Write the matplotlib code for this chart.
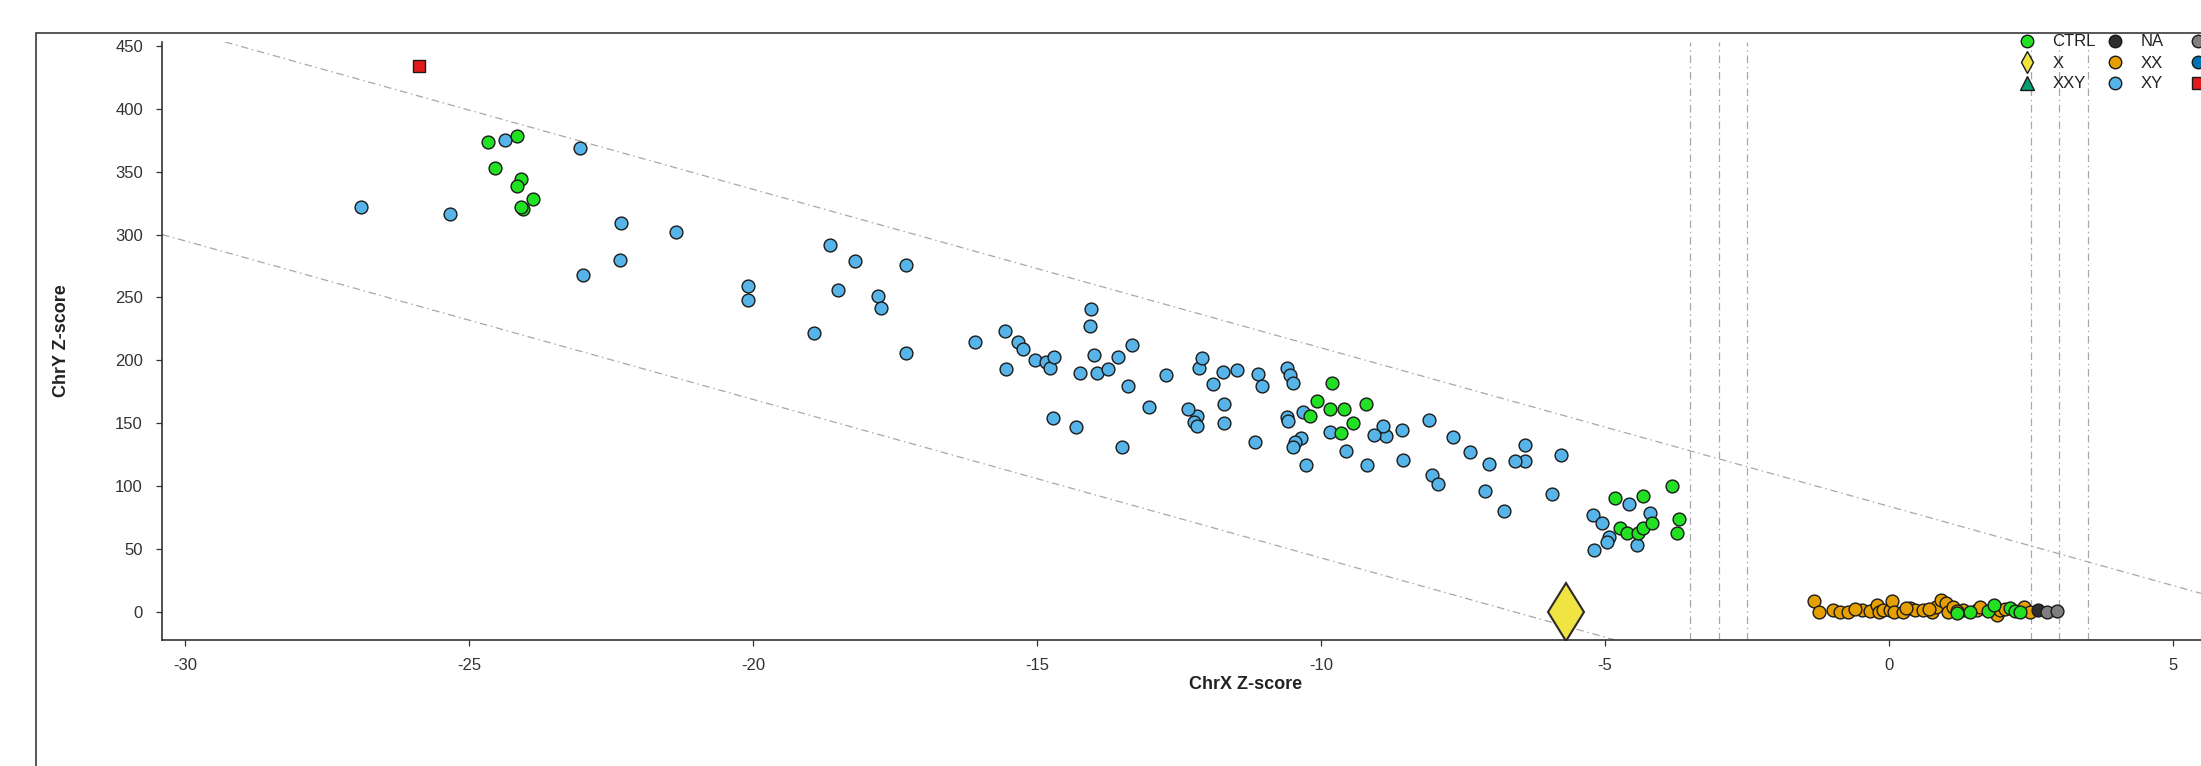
import matplotlib
matplotlib.use("Agg")
import matplotlib.pyplot as plt
from matplotlib.lines import Line2D
from matplotlib.patches import Rectangle

plt.rcParams['font.family'] = ['Liberation Sans', 'DejaVu Sans']
plt.rcParams['axes.unicode_minus'] = False

# ---------------- data ----------------
xy_x = [-26.91, -25.33, -24.37, -23.05, -22.32, -21.36, -22.35, -22.99,
        -20.08, -20.08, -18.92, -18.65, -18.5, -18.2, -17.8, -17.75, -17.3, -17.3,
        -16.1, -15.56, -15.54, -15.34, -15.24, -15.04, -14.85, -14.77, -14.7, -14.72,
        -14.32, -14.25, -14.07, -14.05, -14.0, -13.95, -13.75, -13.57, -13.4, -13.32,
        -12.73, -12.14, -12.1, -11.9, -11.72, -11.48, -11.11, -11.04, -10.6, -10.55, -10.5,
        -5.22, -5.05, -4.58, -4.2, -4.93, -4.97, -5.19, -4.44,
        -5.93, -6.77, -7.12, -5.77, -6.4, -6.4, -6.58, -7.04, -7.38, -7.68, -8.04, -7.94,
        -8.09, -8.56, -8.58, -8.86, -8.9, -9.06, -9.19, -9.56, -9.84, -10.32, -10.59,
        -10.58, -10.35, -10.45, -10.49, -10.27, -11.17, -11.7, -11.7, -12.19, -12.24,
        -12.18, -12.35, -13.02, -13.5]
xy_y = [322, 316, 375, 369, 309, 302, 280, 268,
        259, 248, 222, 292, 256, 279, 251, 242, 276, 206,
        215, 223, 193, 215, 209, 200, 199, 194, 203, 154,
        147, 190, 227, 241, 204, 190, 193, 203, 180, 212,
        188, 194, 202, 181, 191, 192, 189, 180, 194, 188, 182,
        77, 71, 86, 79, 60, 56, 49, 53,
        94, 80, 96, 125, 133, 120, 120, 118, 127, 139, 109, 102,
        153, 121, 145, 140, 148, 141, 117, 128, 143, 159, 155,
        152, 138, 135, 131, 117, 135, 150, 165, 156, 151,
        148, 161, 163, 131]

ctrl_x = [-24.67, -24.15, -24.54, -24.09, -24.15, -23.88, -24.05, -24.08,
          -10.07, -9.8, -9.85, -9.6, -9.21, -9.43, -9.65, -10.2,
          -4.83, -4.33, -3.82, -4.73, -4.62, -4.42, -4.33, -4.17, -3.69, -3.73,
          1.19, 1.43, 1.75, 1.85, 2.13, 2.22, 2.31]
ctrl_y = [374, 378, 353, 344, 339, 328, 320, 322,
          168, 182, 161, 161, 165, 150, 142, 156,
          91, 92, 100, 67, 63, 63, 67, 71, 74, 63,
          -0.5, 0.3, 0.8, 5.3, 2.9, 0.8, 0.3]

xx_x = [-1.32, -1.23, -0.98, -0.87, -0.73, -0.48, -0.33, -0.21, -0.17, -0.1, 0.02, 0.06,
        0.09, 0.25, 0.37, 0.46, 0.6, 0.75, 0.83, 0.92, 1.01, 1.03, 1.13, 1.31, 1.55,
        1.6, 1.9, 1.95, 2.37, 2.48, -0.6, 0.3, 0.7, 1.2, 2.05]
xx_y = [8.7, 0.3, 1.6, 0.3, -0.3, 1.6, 0.8, 5.6, -0.3, 1.6, 1.6, 9.0,
        -0.3, 0.3, 2.9, 1.6, 1.6, -0.3, 4.2, 9.5, 6.9, 0.3, 4.2, 1.6, 1.6,
        4.2, -2.4, 1.6, 4.2, -0.3, 2.5, 3.5, 2.0, 1.0, 2.2]

x_x = [-5.68]
x_y = [0.0]

na_x = [2.62]
na_y = [1.6]

grey_x = [2.78, 2.95]
grey_y = [-0.3, 0.8]

red_x = [-25.88]
red_y = [434]

# reference lines
vlines_x = [-3.5, -3.0, -2.5, 2.5, 3.0, 3.5]
diag_slope = -12.6
diag_upper_icpt = 84.0
diag_lower_icpt = -83.0

xticks = [-30, -25, -20, -15, -10, -5, 0, 5]
yticks = [0, 50, 100, 150, 200, 250, 300, 350, 400, 450]

# third column labels are cut off by the image edge in the reference
legend_cols = [
    [("CTRL", "o", "#22E022", 9), ("X", "d", "#F0E442", 11), ("XXY", "^", "#009E73", 10)],
    [("NA", "o", "#2E2E2E", 9), ("XX", "o", "#E69F00", 9), ("XY", "o", "#56B4E9", 9)],
    [("", "o", "#7F7F7F", 9), ("", "o", "#0072B2", 9), ("", "s", "#E31A1C", 8)],
]

# ---------------- figure ----------------
W, H = 2201, 766
fig = plt.figure(figsize=(W / 100, H / 100), dpi=100)
px_l, px_r, px_t, px_b = 162, 2330, 42, 640
ax = fig.add_axes([px_l / W, 1 - px_b / H, (px_r - px_l) / W, (px_b - px_t) / H])
ax.set_xlim(-30.405, 7.764)
ax.set_ylim(-22.26, 453.1)

# outer frame
fig.add_artist(Rectangle((36 / W, -0.2), 2.0, 1 - 33 / H + 0.2, transform=fig.transFigure,
                         fill=False, edgecolor="#3a3a3a", linewidth=1.2, zorder=0))

ls = (0, (6, 3, 1.2, 3))
lc = "#a8a8a8"
for xv in vlines_x:
    ax.axvline(xv, color=lc, lw=0.9, ls=ls, zorder=1)
ax.axline((0, diag_upper_icpt), slope=diag_slope, color=lc, lw=0.9, ls=ls, zorder=1)
ax.axline((0, diag_lower_icpt), slope=diag_slope, color=lc, lw=0.9, ls=ls, zorder=1)

ec = "#1a1a1a"
ax.scatter(xy_x, xy_y, s=85, c="#56B4E9", edgecolors=ec, linewidths=1.0, zorder=3)
ax.scatter(ctrl_x, ctrl_y, s=85, c="#22E022", edgecolors=ec, linewidths=1.0, zorder=4)
ax.scatter(xx_x, xx_y, s=85, c="#E69F00", edgecolors=ec, linewidths=1.0, zorder=3)
ax.scatter(na_x, na_y, s=85, c="#2E2E2E", edgecolors=ec, linewidths=1.0, zorder=3)
ax.scatter(grey_x, grey_y, s=85, c="#7F7F7F", edgecolors=ec, linewidths=1.0, zorder=3)
ax.plot(x_x, x_y, ls="none", marker="d", markersize=30, markerfacecolor="#F0E442",
        markeredgecolor="#2a2a2a", markeredgewidth=1.5, zorder=5)
ax.scatter(red_x, red_y, s=70, marker="s", c="#E31A1C", edgecolors=ec, linewidths=1.0, zorder=4)

# axes styling
for side in ("top", "right"):
    ax.spines[side].set_visible(False)
for side in ("left", "bottom"):
    ax.spines[side].set_color("#333333")
    ax.spines[side].set_linewidth(1.2)
ax.set_xticks(xticks)
ax.set_yticks(yticks)
ax.tick_params(axis="both", direction="out", length=4.3, width=0.9, color="#333333",
               labelsize=12, labelcolor="#333333")
ax.tick_params(axis="x", pad=8.5)
ax.tick_params(axis="y", pad=9.4)

ax.set_xlabel("ChrX Z-score", fontsize=13, fontweight="bold", color="#222222")
ax.xaxis.set_label_coords((1246 - px_l) / (px_r - px_l), (px_b - 676) / (px_b - px_t))
ax.set_ylabel("ChrY Z-score", fontsize=13, fontweight="bold", color="#222222")
ax.yaxis.label.set_va("center")
ax.yaxis.set_label_coords((62 - px_l) / (px_r - px_l), 0.5)

# legend: three equally spaced columns (like R's legend)
col_x = [2019, 2107, 2190]
for cx, entries in zip(col_x, legend_cols):
    handles = [Line2D([], [], ls="none", marker=m, markersize=ms, markerfacecolor=c,
                      markeredgecolor=ec, markeredgewidth=1.0) for (_, m, c, ms) in entries]
    labels = [e[0] for e in entries]
    fig.legend(handles, labels, loc="upper left", bbox_to_anchor=(cx / W, 1 - 34.5 / H),
               bbox_transform=fig.transFigure, frameon=False, fontsize=12,
               handlelength=1.0, handletextpad=1.0, borderpad=0, borderaxespad=0,
               labelspacing=0.36, labelcolor="#222222")

fig.savefig("out.png", dpi=100)
